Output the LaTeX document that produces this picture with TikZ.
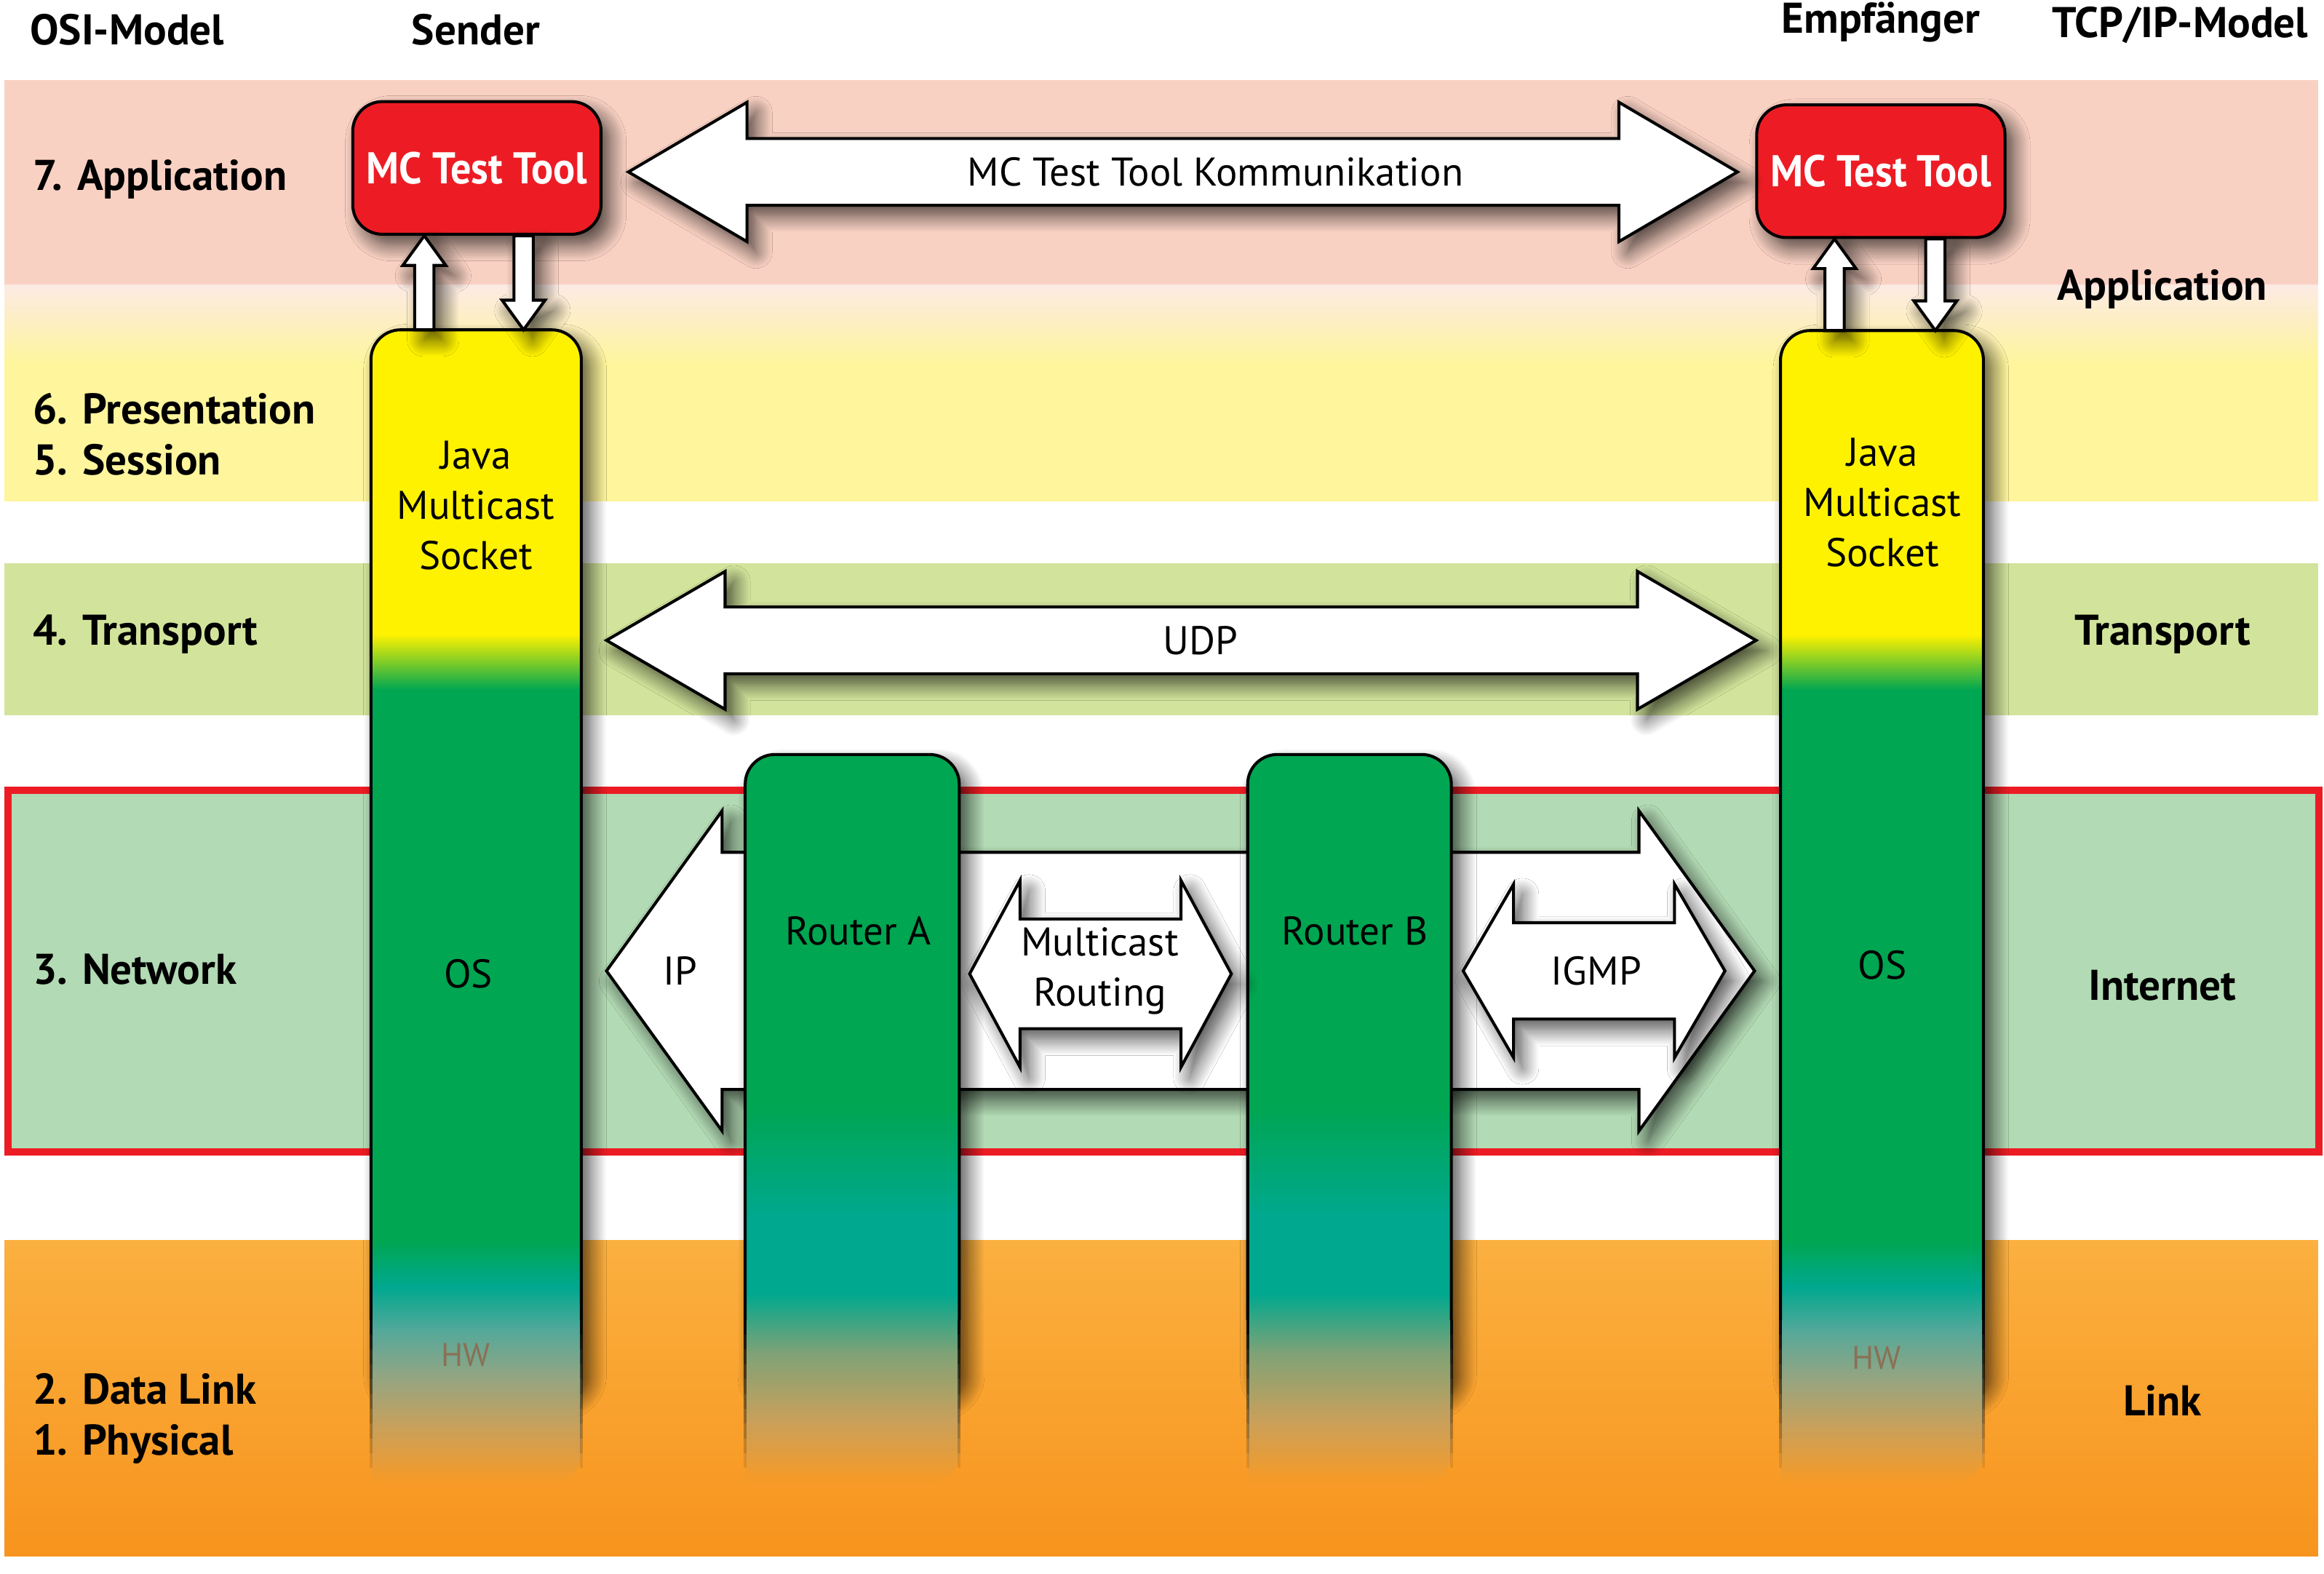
\documentclass[tikz,border=0pt]{standalone}
\usepackage{fontspec}
\setmainfont{PT Sans}
\setsansfont{PT Sans}
\newfontfamily\toolfont[FakeStretch=0.92]{PT Sans}
\usetikzlibrary{calc}
\usetikzlibrary{positioning}
\usetikzlibrary{shadows.blur}

\definecolor{appband}{HTML}{F9D1C3}
\definecolor{presband}{HTML}{FEF59C}
\definecolor{transband}{HTML}{D2E49B}
\definecolor{netband}{HTML}{B2DAB4}
\definecolor{netframe}{HTML}{ED1C24}
\definecolor{linktop}{HTML}{FBB040}
\definecolor{linkbot}{HTML}{F7941D}
\definecolor{toolred}{HTML}{ED1C24}
\definecolor{sockyellow}{HTML}{FFF200}
\definecolor{osgreen}{HTML}{00A651}
\definecolor{osteal}{HTML}{00A88F}
\definecolor{hwfadeA}{HTML}{55A89A}
\definecolor{hwfadeB}{HTML}{93A582}
\definecolor{hwfadeC}{HTML}{C9A05B}
\definecolor{hwfadeD}{HTML}{80A276}
\definecolor{fadeorange}{HTML}{F89A25}
\definecolor{hwtext}{HTML}{8A7055}

\pgfdeclareverticalshading{hoststack}{100bp}{%
    color(0bp)=(fadeorange); color(25bp)=(fadeorange);
    color(27.4bp)=(hwfadeC); color(29.6bp)=(hwfadeB); color(31.6bp)=(hwfadeA);
    color(33.5bp)=(osteal); color(35.5bp)=(osgreen); color(59.4bp)=(osgreen);
    color(61.8bp)=(sockyellow); color(100bp)=(sockyellow)}
\pgfdeclareverticalshading{routerstack}{100bp}{%
    color(0bp)=(fadeorange); color(25bp)=(fadeorange);
    color(29.3bp)=(hwfadeC); color(33.9bp)=(hwfadeD);
    color(38bp)=(osteal); color(43.3bp)=(osteal); color(50.9bp)=(osgreen);
    color(100bp)=(osgreen)}

\begin{document}
\begin{tikzpicture}[x=1pt, y=-1pt,
        every node/.style={inner sep=0pt, align=center, font=\fontsize{27}{34}\selectfont},
        ]
    \tikzstyle{drop} = [blur shadow={shadow xshift=6pt, shadow yshift=-7pt, shadow blur radius=11pt, shadow blur steps=14, shadow opacity=70}];
    \tikzstyle{osilayer} = [anchor=west, align=left, font=\fontsize{29}{34}\selectfont\bfseries];
    \tikzstyle{tcpmodel} = [font=\fontsize{29}{34}\selectfont\bfseries];
    \tikzstyle{stack} = [rectangle, anchor=north];
    \tikzstyle{tool} = [rectangle, rounded corners=20, draw, line width=2, fill=toolred, text=white, minimum width=167.5, minimum height=89.5, font=\fontsize{30}{34}\toolfont\bfseries, drop];
    \tikzstyle{hw} = [text=hwtext, font=\fontsize{22}{26}\selectfont];
    \tikzstyle{blockarrow} = [draw, line width=2, fill=white, line join=miter, drop];
    \newcommand{\hblock}[5]{%
        \draw[blockarrow] let \p1=#1, \p2=#2 in
            (\p1) -- (\x1+#5pt,\y1+#4pt) -- (\x1+#5pt,\y1+#3pt) -- (\x2-#5pt,\y1+#3pt) -- (\x2-#5pt,\y1+#4pt)
            -- (\x2,\y1) -- (\x2-#5pt,\y1-#4pt) -- (\x2-#5pt,\y1-#3pt) -- (\x1+#5pt,\y1-#3pt) -- (\x1+#5pt,\y1-#4pt) -- cycle;
    }
    \newcommand{\vblock}[2]{%
        \draw[blockarrow] let \p1=#1, \p2=#2, \p3=($#2!20pt!#1$) in
            (\x1-6.5pt,\y1) -- (\x1-6.5pt,\y3) -- (\x1-14.5pt,\y3) -- (\x1,\y2)
            -- (\x1+14.5pt,\y3) -- (\x1+6.5pt,\y3) -- (\x1+6.5pt,\y1) -- cycle;
    }
    \useasboundingbox (0,0) rectangle (1568,1061.4);

    % layer bands
    \fill[appband] (3,54) rectangle (1564,192);
    \shade[top color=appband!45!white, bottom color=presband] (3,192) rectangle (1564,245.5);
    \fill[presband] (3,245.5) rectangle (1564,338);
    \fill[transband] (3,380) rectangle (1564,482.5);
    \draw[netframe, line width=5, fill=netband] (5.5,533) rectangle (1564.5,777);
    \shade[top color=linktop, bottom color=linkbot] (3,837) rectangle (1564,1050);

    % hosts and routers (outlines only, filled later)
    \node[stack, minimum width=141.5, minimum height=777.5] (sender) at (321.25,222.5) {};
    \node[stack, minimum width=144, minimum height=491] (routera) at (575,509) {};
    \node[stack, minimum width=137, minimum height=491] (routerb) at (910.5,509) {};
    \node[stack, minimum width=136.5, minimum height=777] (receiver) at (1269.75,223) {};
    \node[tool] (sendtool) at (321.75,113.3) {MC Test Tool};
    \node[tool] (recvtool) at (1269,115.5) {MC Test Tool};

    \coordinate (talkmid) at (820,116);
    \coordinate (udpmid) at (810,432);
    \coordinate (ipmid) at (459,655);
    \coordinate (mcroutemid) at (742,655);
    \coordinate (igmpmid) at (1077,655);

    % peer arrows behind the stacks
    \hblock{($(sendtool.east |- talkmid)+(17.5,0)$)}{($(recvtool.west |- talkmid)+(-12,0)$)}{22.5}{47}{80}
    \hblock{($(sender.east |- udpmid)+(17,0)$)}{($(receiver.west |- udpmid)+(-16.5,0)$)}{22.5}{46.5}{80}
    \hblock{($(sender.east |- ipmid)+(17,0)$)}{($(receiver.west |- ipmid)+(-17.5,0)$)}{80}{108}{78}

    \foreach \st/\sh in {sender/hoststack, routera/routerstack, routerb/routerstack, receiver/hoststack} {
        \path[drop, rounded corners=20] (\st.north west) rectangle ([yshift=60pt]\st.south east);
        \path[shade, shading=\sh, rounded corners=20] (\st.south west) |- (\st.north) -| (\st.south east) [sharp corners] -- cycle;
        \draw[line width=2, rounded corners=20] ([yshift=110pt]\st.south west) |- (\st.north) -| ([yshift=110pt]\st.south east);
        \foreach \k in {1,...,10}
            \draw[line width=2, draw opacity=1-\k/11] ([yshift={120pt-\k*10pt}]\st.south west) -- ++(0,10)
                ([yshift={120pt-\k*10pt}]\st.south east) -- ++(0,10);
    }

    % arrows between routers
    \hblock{($(routera.east |- mcroutemid)+(7,2)$)}{($(routerb.west |- mcroutemid)+(-11,2)$)}{37}{63}{34}
    \hblock{($(routerb.east |- igmpmid)+(8,0)$)}{($(receiver.west |- igmpmid)+(-37.5,0)$)}{32.5}{58.5}{34}

    % tool to socket
    \coordinate (sendup) at ($(sender.north)+(-35,0)$);
    \coordinate (senddown) at ($(sender.north)+(32,0)$);
    \coordinate (recvup) at ($(receiver.north)+(-32,0)$);
    \coordinate (recvdown) at ($(receiver.north)+(36,0)$);
    \vblock{(sendup)}{(sendup |- sendtool.south)}
    \vblock{(senddown |- sendtool.south)}{(senddown)}
    \vblock{(recvup)}{(recvup |- recvtool.south)}
    \vblock{(recvdown |- recvtool.south)}{(recvdown)}

    % headings
    \node[tcpmodel, anchor=west] (osihead) at (20,20) {OSI-Model};
    \node[tcpmodel] (sendhead) at (321,20) {Sender};
    \node[tcpmodel] (recvhead) at (1269,15) {Empfänger};
    \node[tcpmodel] (tcphead) at (1471,17) {TCP/IP-Model};

    \node[osilayer] (osi7) at (22,121) {7. Application};
    \node[osilayer] (osi65) at (22,293) {6. Presentation\\5. Session};
    \node[osilayer] (osi4) at (22,428) {4. Transport};
    \node[osilayer] (osi3) at (22,654) {3. Network};
    \node[osilayer] (osi21) at (22,957) {2. Data Link\\1. Physical};

    \node[tcpmodel] (tcpapp) at (1459,195) {Application};
    \node[tcpmodel] (tcptrans) at (1459,428) {Transport};
    \node[tcpmodel] (tcpnet) at (1459,665) {Internet};
    \node[tcpmodel] (tcplink) at (1459,945) {Link};

    % stack texts
    \node (sendsock) at (321,341) {Java\\Multicast\\Socket};
    \node (sendos) at (316,657) {OS};
    \node[hw] (sendhw) at (314,914) {HW};
    \node (recvsock) at (1270,339) {Java\\Multicast\\Socket};
    \node (recvos) at (1270,651) {OS};
    \node[hw] (recvhw) at (1266,916) {HW};
    \node (routeraname) at (579,628) {Router A};
    \node (routerbname) at (914,628) {Router B};

    % arrow texts
    \node (talk) at (talkmid) {MC Test Tool Kommunikation};
    \node (udp) at (udpmid) {UDP};
    \node (ip) at (ipmid) {IP};
    \node (mcroute) at (mcroutemid) {Multicast\\Routing};
    \node (igmp) at (igmpmid) {IGMP};
\end{tikzpicture}
\end{document}
